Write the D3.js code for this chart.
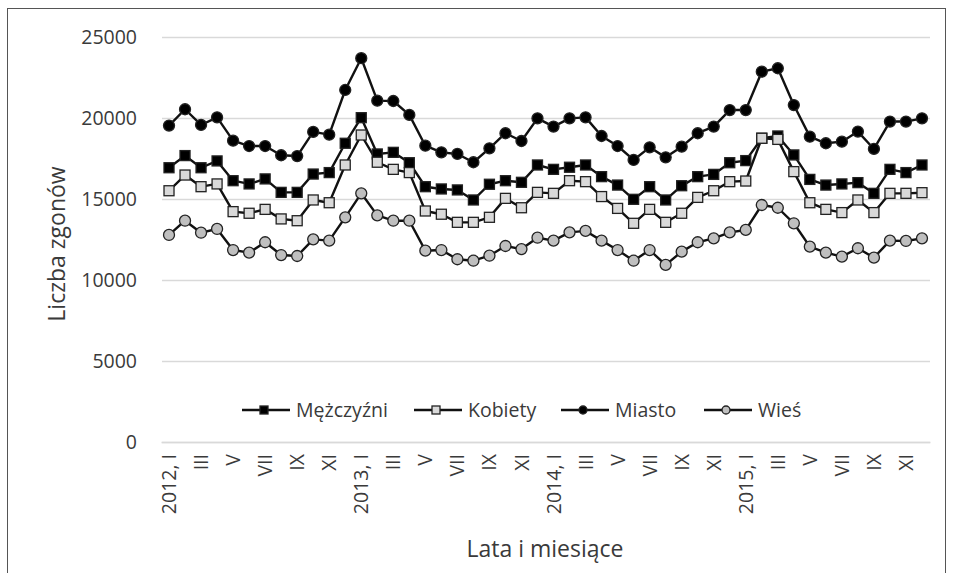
<!DOCTYPE html>
<html lang="pl">
<head>
<meta charset="utf-8">
<script src="https://cdn.jsdelivr.net/npm/d3@7"></script>
<style>
  html, body { margin: 0; padding: 0; background: #fff; }
  svg { display: block; font-family: "Open Sans", "Noto Sans", sans-serif; }
</style>
</head>
<body>
<svg id="chart" width="953" height="573"></svg>
<script>
// Monthly deaths in Poland, 2012–2015, by sex and by place of residence
const years = ["2012", "2013", "2014", "2015"];
const months = ["I", "II", "III", "IV", "V", "VI", "VII", "VIII", "IX", "X", "XI", "XII"];
const categories = years.flatMap(y => months.map((m, i) => i === 0 ? `${y}, ${m}` : m));

const mezczyzni = [
  16930, 17680, 16930, 17350, 16130, 15930, 16240, 15410, 15410, 16540, 16630, 18440,
  20020, 17780, 17880, 17240, 15760, 15620, 15560, 14940, 15910, 16130, 16030, 17100,
  16830, 16960, 17100, 16380, 15860, 14980, 15760, 14940, 15820, 16380, 16520, 17240,
  17370, 18750, 18890, 17720, 16210, 15860, 15930, 16010, 15350, 16830, 16630, 17100
];
const kobiety = [
  15510, 16480, 15760, 15930, 14220, 14120, 14360, 13770, 13660, 14940, 14770, 17100,
  18950, 17270, 16830, 16630, 14260, 14060, 13560, 13560, 13870, 15040, 14460, 15410,
  15350, 16130, 16070, 15150, 14420, 13500, 14360, 13560, 14120, 15100, 15510, 16070,
  16110, 18750, 18680, 16690, 14770, 14360, 14160, 14940, 14160, 15350, 15350, 15390
];
const miasto = [
  19530, 20540, 19570, 20040, 18600, 18270, 18270, 17700, 17650, 19140, 18970, 21730,
  23690, 21070, 21050, 20190, 18290, 17880, 17780, 17270, 18130, 19060, 18580, 19980,
  19470, 19980, 20040, 18890, 18270, 17410, 18190, 17570, 18230, 19060, 19470, 20490,
  20490, 22860, 23070, 20800, 18850, 18440, 18540, 19160, 18090, 19780, 19780, 19980
];
const wies = [
  12780, 13660, 12920, 13150, 11850, 11690, 12330, 11540, 11480, 12510, 12430, 13870,
  15350, 13990, 13660, 13660, 11810, 11850, 11280, 11190, 11500, 12100, 11910, 12610,
  12430, 12940, 13030, 12430, 11850, 11190, 11850, 10930, 11750, 12330, 12570, 12940,
  13090, 14630, 14460, 13500, 12060, 11690, 11440, 11960, 11380, 12430, 12410, 12570
];
const seriesNames = ["Mężczyźni", "Kobiety", "Miasto", "Wieś"];
const yTicks = [0, 5000, 10000, 15000, 20000, 25000];
const yTitle = "Liczba zgonów";
const xTitle = "Lata i miesiące";

const series = [
  { name: seriesNames[0], values: mezczyzni, shape: "square", fill: "#000000" },
  { name: seriesNames[1], values: kobiety,   shape: "square", fill: "#d9d9d9" },
  { name: seriesNames[2], values: miasto,    shape: "circle", fill: "#000000" },
  { name: seriesNames[3], values: wies,      shape: "circle", fill: "#bfbfbf" }
];

const svg = d3.select("#chart");
const textColor = "#3a3a3a";
const fontFamily = "Open Sans";
const plot = { left: 161, right: 930, top: 37, bottom: 442 };

// outer frame
svg.append("rect")
  .attr("x", 7.5).attr("y", 8.5).attr("width", 938).attr("height", 580)
  .attr("fill", "none").attr("stroke", "#555").attr("stroke-width", 1);

// category positions by index (month names repeat each year)
const idx = d3.range(categories.length);
const x = d3.scaleBand().domain(idx).range([plot.left, plot.right]).padding(0);
const cx = i => x(i) + x.bandwidth() / 2;
const y = d3.scaleLinear().domain([0, 25000]).range([plot.bottom, plot.top]);

// horizontal gridlines with value labels
const yAxis = d3.axisLeft(y).tickValues(yTicks).tickFormat(d3.format("d"))
  .tickSize(-(plot.right - plot.left - 1)).tickPadding(25);
const gy = svg.append("g").attr("transform", `translate(${plot.left + 1},0)`).call(yAxis);
gy.select(".domain").remove();
gy.selectAll(".tick line").attr("stroke", "#d9d9d9").attr("stroke-width", 1.5);
gy.selectAll(".tick text").attr("fill", textColor).attr("font-size", 19.5)
  .attr("font-family", fontFamily);

// category axis: every second month labelled, rotated
const xAxis = d3.axisBottom(x)
  .tickValues(idx.filter(i => i % 2 === 0))
  .tickFormat(i => categories[i])
  .tickSize(0).tickPadding(0);
const gx = svg.append("g").attr("transform", `translate(0,${plot.bottom})`).call(xAxis);
gx.select(".domain").attr("stroke", "#d9d9d9").attr("stroke-width", 1.5);
gx.selectAll(".tick text")
  .attr("fill", textColor).attr("font-size", 19.5).attr("font-family", fontFamily)
  .attr("text-anchor", "end")
  .attr("transform", "rotate(-90)")
  .attr("x", -12).attr("y", 0).attr("dy", "0.36em");

// lines
const line = d3.line().x((d, i) => cx(i)).y(d => y(d));
series.forEach(s => {
  svg.append("path").datum(s.values)
    .attr("d", line).attr("fill", "none")
    .attr("stroke", "#111").attr("stroke-width", 2.4).attr("stroke-linejoin", "round");
});

// markers
function drawMarker(g, shape, fill, px, py, size) {
  if (shape === "square") {
    g.append("rect")
      .attr("x", px - size / 2).attr("y", py - size / 2)
      .attr("width", size).attr("height", size)
      .attr("fill", fill).attr("stroke", "#222").attr("stroke-width", 1.3);
  } else {
    g.append("circle")
      .attr("cx", px).attr("cy", py).attr("r", size / 2)
      .attr("fill", fill).attr("stroke", "#222").attr("stroke-width", 1.3);
  }
}
series.forEach(s => {
  const g = svg.append("g");
  s.values.forEach((v, i) => drawMarker(g, s.shape, s.fill, cx(i), y(v), s.shape === "square" ? 10 : 11));
});

// legend
const legendY = 410;
const legendX = [242, 414, 561, 704];
series.forEach((s, i) => {
  const g = svg.append("g");
  const x0 = legendX[i];
  g.append("line").attr("x1", x0).attr("x2", x0 + 48).attr("y1", legendY).attr("y2", legendY)
    .attr("stroke", "#111").attr("stroke-width", 2.4);
  drawMarker(g, s.shape, s.fill, x0 + 22, legendY, 8);
  g.append("text").attr("x", x0 + 54).attr("y", legendY).attr("dy", "0.36em")
    .attr("fill", textColor).attr("font-size", 19.5).attr("font-family", fontFamily).text(s.name);
});

// axis titles
svg.append("text")
  .attr("transform", `translate(65,244) rotate(-90)`)
  .attr("text-anchor", "middle").attr("fill", textColor).attr("font-size", 23)
  .attr("font-family", fontFamily).text(yTitle);
svg.append("text")
  .attr("x", 545).attr("y", 557)
  .attr("text-anchor", "middle").attr("fill", textColor).attr("font-size", 23)
  .attr("font-family", fontFamily).text(xTitle);
</script>
</body>
</html>
